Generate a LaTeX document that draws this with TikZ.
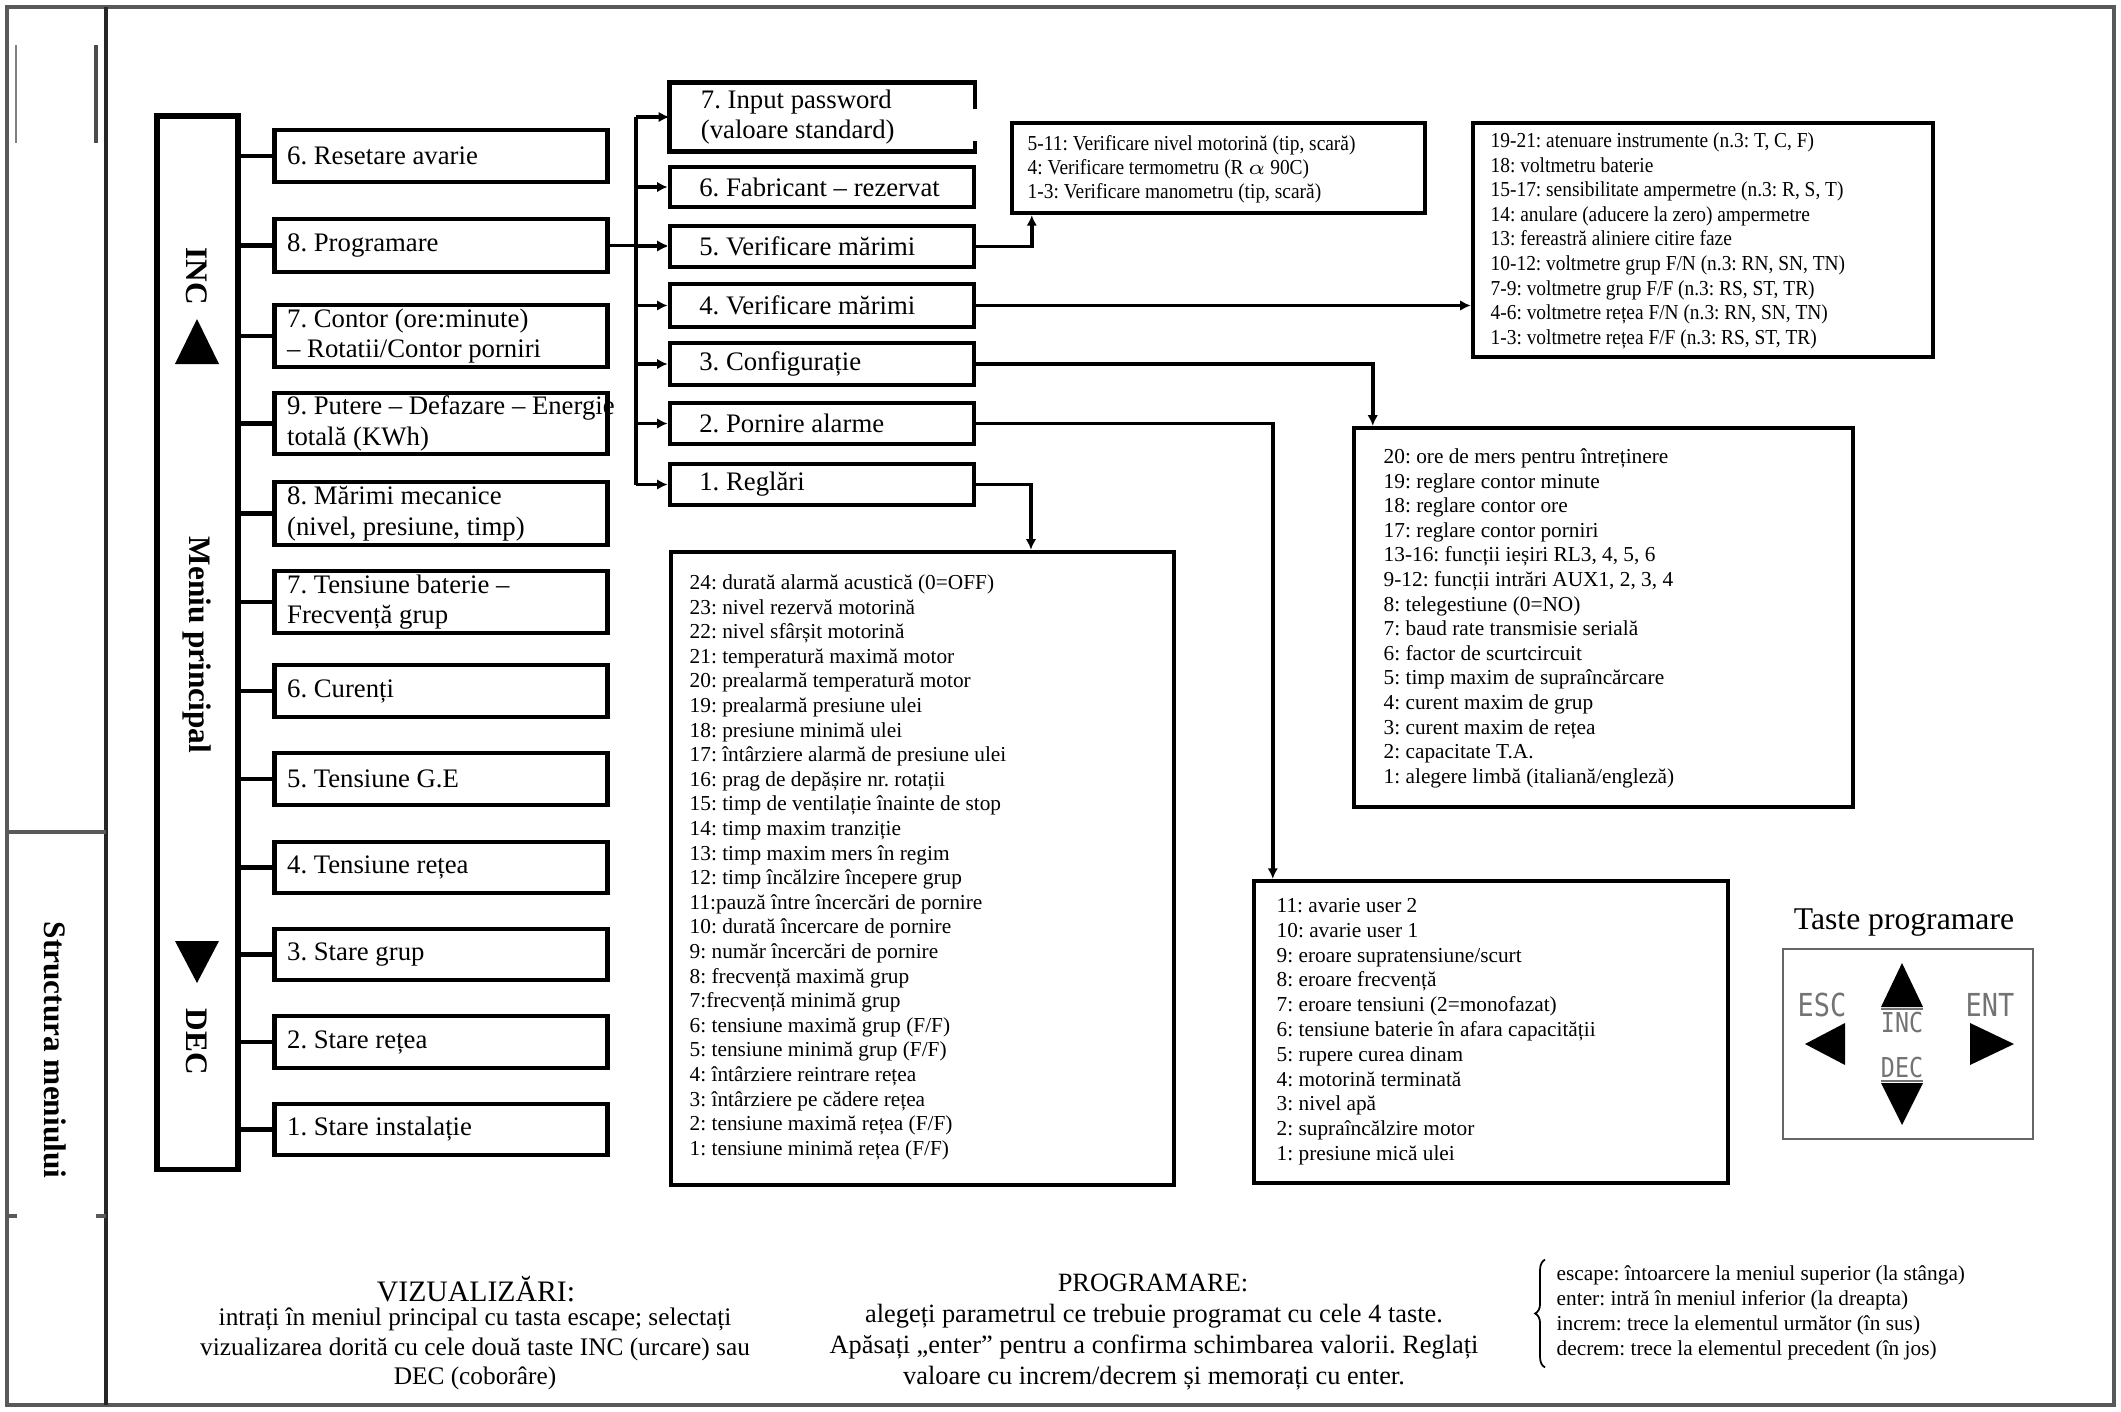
\documentclass[tikz,border=0pt]{standalone}
\usepackage{fontspec}
\setmainfont{Liberation Serif}
\newfontfamily\narrowserif[FakeStretch=0.91]{Liberation Serif}
\newfontfamily\keypadfont[FakeStretch=0.85]{DejaVu Sans Mono}
\usepackage{tikz}
\usetikzlibrary{calc, arrows.meta, decorations.pathreplacing}
\frenchspacing

\begin{document}
\begin{tikzpicture}[x=0.01cm, y=-0.01cm,
	menubox/.style={draw, line width=1.4pt, minimum width=3.32cm, inner sep=0pt},
	subbox/.style={draw, line width=1.3pt, minimum width=3.04cm, inner sep=0pt},
	listbox/.style={draw, line width=1.2pt, inner sep=0pt},
	boxtxt/.style={anchor=west, align=left, inner sep=0pt, font=\fontsize{7.6}{8.7}\selectfont},
	listtxt/.style={anchor=west, inner sep=0pt, text height=4.3pt, text depth=1.2pt, font=\fontsize{6.06}{7}\selectfont},
	narrowtxt/.style={listtxt, font=\narrowserif\fontsize{6.06}{7}\selectfont},
	vlabel/.style={rotate=-90, inner sep=0pt, font=\fontsize{8.9}{10}\bfseries},
	link/.style={line width=1.3pt},
	sublink/.style={line width=1.1pt},
	arr/.style={-{Latex[length=3pt, width=3pt]}},
	frame/.style={line width=1.1pt, black!65},
	keylbl/.style={inner sep=0pt, text=black!55, font=\keypadfont\fontsize{9}{9}\selectfont}]
			\pgfmathsetmacro{\menux}{441}
			\pgfmathsetmacro{\subx}{822}
			\pgfmathsetmacro{\listgap}{24.6}
			\useasboundingbox (0,0) rectangle (2121,1412);
			
			\draw[frame] (7,7) rectangle (2114,1405);
			\draw[frame, black!85] (106,7) -- (106,1405);
			\draw[frame] (7,832) -- (106,832);
			\draw[frame] (7,1216) -- ++(10,0);
			\draw[frame] (106,1216) -- ++(-10,0);
			\draw[line width=0.5pt, black!50] (16,45) -- (16,143);
			\draw[line width=0.9pt, black!70] (96,45) -- (96,143);
			\node[vlabel] (structlbl) at (55,1050) {Structura meniului};
			
			\node[draw, line width=1.6pt, minimum width=0.81cm, minimum height=10.53cm] (menu) at (197.5,642.5) {};
			\node[vlabel] (inclbl) at (197,276) {INC};
			\fill (197,319) -- (175,364) -- (219,364) -- cycle;
			\node[vlabel] (menulbl) at (197,645) {Meniu principal};
			\fill (175,941) -- (219,941) -- (197,983) -- cycle;
			\node[vlabel] (declbl) at (197,1042) {DEC};
			
			\foreach \nm/\yy/\hh/\txt in {
				reset/156/52/{6. Resetare avarie},
				progr/245.5/53/{8. Programare},
				contor/336/62/{7. Contor (ore:minute)\\– Rotatii/Contor porniri},
				putere/423.5/61/{9. Putere – Defazare – Energie\\totală (KWh)},
				mecan/513.5/63/{8. Mărimi mecanice\\(nivel, presiune, timp)},
				bater/602/62/{7. Tensiune baterie –\\Frecvență grup},
				curenti/691/52/{6. Curenți},
				tensge/779/52/{5. Tensiune G.E},
				tensret/867.5/51/{4. Tensiune rețea},
				stgrup/954.5/51/{3. Stare grup},
				stret/1042/52/{2. Stare rețea},
				stinst/1129.5/51/{1. Stare instalație}}{
				\node[menubox, minimum height=\hh*0.01cm] (\nm) at (\menux,\yy) {};
				\node[boxtxt] (\nm-t) at ([xshift=0.14cm]\nm.west) {\txt};
				\draw[link] (menu.east |- \nm.west) -- (\nm.west);
			}
			
			\coordinate (bus) at (636,117);
			\node[minimum width=3.04cm, minimum height=0.68cm, inner sep=0pt] (ipw) at (\subx,117) {};
			\draw[line width=1.3pt] ([yshift=-0.27cm]ipw.north east) -- (ipw.north east) -- (ipw.north west) -- (ipw.south west) -- (ipw.south east) -- ++(0,-11);
			\node[boxtxt] (ipw-t) at ([xshift=0.31cm]ipw.west) {7. Input password\\(valoare standard)};
			\draw[sublink, arr] (bus |- ipw.west) -- (ipw.west);
			\foreach \nm/\yy/\hh/\txt in {
				fabr/187/40/{6. Fabricant – rezervat},
				ver5/246.5/41/{5. Verificare mărimi},
				ver4/305.5/43/{4. Verificare mărimi},
				cfg/364/42/{3. Configurație},
				alrm/423.5/41/{2. Pornire alarme},
				regl/484.5/41/{1. Reglări}}{
				\node[subbox, minimum height=\hh*0.01cm] (\nm) at (\subx,\yy) {};
				\node[boxtxt] (\nm-t) at ([xshift=0.31cm]\nm.west) {\txt};
				\draw[sublink, arr] (bus |- \nm.west) -- (\nm.west);
			}
			\draw[sublink] (bus |- ipw.west) -- (bus |- regl.west);
			\draw[sublink, arr] (progr.east) -- (progr.east -| ver5.west);
			
			\node[listbox, minimum width=4.13cm, minimum height=0.9cm] (verbox) at (1218.5,168) {};
			\foreach \t [count=\i] in {
				{5-11: Verificare nivel motorină (tip, scară)},
				{4: Verificare termometru (R $\alpha$ 90C)},
				{1-3: Verificare manometru (tip, scară)}}
				\node[narrowtxt] (ver-\i) at (1027,{145+24*(\i-1)}) {\t};
			
			\node[listbox, minimum width=4.6cm, minimum height=2.34cm] (instrbox) at (1703,240) {};
			\foreach \t [count=\i] in {
				{19-21: atenuare instrumente (n.3: T, C, F)},
				{18: voltmetru baterie},
				{15-17: sensibilitate ampermetre (n.3: R, S, T)},
				{14: anulare (aducere la zero) ampermetre},
				{13: fereastră aliniere citire faze},
				{10-12: voltmetre grup F/N (n.3: RN, SN, TN)},
				{7-9: voltmetre grup F/F (n.3: RS, ST, TR)},
				{4-6: voltmetre rețea F/N (n.3: RN, SN, TN)},
				{1-3: voltmetre rețea F/F (n.3: RS, ST, TR)}}
				\node[narrowtxt] (instr-\i) at (1490,{142+\listgap*(\i-1)}) {\t};
			
			\node[listbox, minimum width=4.99cm, minimum height=3.79cm] (cfgbox) at (1603.5,617.5) {};
			\foreach \t [count=\i] in {
				{20: ore de mers pentru întreținere},
				{19: reglare contor minute},
				{18: reglare contor ore},
				{17: reglare contor porniri},
				{13-16: funcții ieșiri RL3, 4, 5, 6},
				{9-12: funcții intrări AUX1, 2, 3, 4},
				{8: telegestiune (0=NO)},
				{7: baud rate transmisie serială},
				{6: factor de scurtcircuit},
				{5: timp maxim de supraîncărcare},
				{4: curent maxim de grup},
				{3: curent maxim de rețea},
				{2: capacitate T.A.},
				{1: alegere limbă (italiană/engleză)}}
				\node[listtxt] (cfg-\i) at (1383,{458+\listgap*(\i-1)}) {\t};
			
			\node[listbox, minimum width=4.74cm, minimum height=3.02cm] (alrmbox) at (1491,1032) {};
			\foreach \t [count=\i] in {
				{11: avarie user 2},
				{10: avarie user 1},
				{9: eroare supratensiune/scurt},
				{8: eroare frecvență},
				{7: eroare tensiuni (2=monofazat)},
				{6: tensiune baterie în afara capacității},
				{5: rupere curea dinam},
				{4: motorină terminată},
				{3: nivel apă},
				{2: supraîncălzire motor},
				{1: presiune mică ulei}}
				\node[listtxt] (alrm-\i) at (1276,{907+24.8*(\i-1)}) {\t};
			
			\node[listbox, minimum width=5.03cm, minimum height=6.33cm] (reglbox) at (922.5,868.5) {};
			\foreach \t [count=\i] in {
				{24: durată alarmă acustică (0=OFF)},
				{23: nivel rezervă motorină},
				{22: nivel sfârșit motorină},
				{21: temperatură maximă motor},
				{20: prealarmă temperatură motor},
				{19: prealarmă presiune ulei},
				{18: presiune minimă ulei},
				{17: întârziere alarmă de presiune ulei},
				{16: prag de depășire nr. rotații},
				{15: timp de ventilație înainte de stop},
				{14: timp maxim tranziție},
				{13: timp maxim mers în regim},
				{12: timp încălzire începere grup},
				{11:pauză între încercări de pornire},
				{10: durată încercare de pornire},
				{9: număr încercări de pornire},
				{8: frecvență maximă grup},
				{7:frecvență minimă grup},
				{6: tensiune maximă grup (F/F)},
				{5: tensiune minimă grup (F/F)},
				{4: întârziere reintrare rețea},
				{3: întârziere pe cădere rețea},
				{2: tensiune maximă rețea (F/F)},
				{1: tensiune minimă rețea (F/F)}}
				\node[listtxt] (regl-\i) at (689,{584+\listgap*(\i-1)}) {\t};
			
			\draw[sublink, arr] (ver5.east) -| ([xshift=0.22cm]verbox.south west);
			\draw[sublink, arr] (ver4.east) -- (ver4.east -| instrbox.west);
			\draw[sublink, arr] (cfg.east) -| ([xshift=0.21cm]cfgbox.north west);
			\draw[sublink, arr] (alrm.east) -| ([xshift=0.21cm]alrmbox.north west);
			\draw[sublink, arr] (regl.east) -| ([xshift=3.62cm]reglbox.north west);
			
			\node[inner sep=0pt, font=\fontsize{9}{10}\selectfont] (keytitle) at (1904,923) {Taste programare};
			\node[draw=black!60, line width=0.7pt, minimum width=2.5cm, minimum height=1.9cm] (keypad) at (1908,1044) {};
			\fill (1902,963) -- (1881,1007) -- (1923,1007) -- cycle;
			\fill (1881,1083) -- (1923,1083) -- (1902,1125) -- cycle;
			\fill (1805,1044) -- (1845,1023) -- (1845,1065) -- cycle;
			\fill (1970,1023) -- (1970,1065) -- (2014,1044) -- cycle;
			\draw[black!55, line width=0.8pt] (1881,1009) -- (1923,1009);
			\draw[black!55, line width=0.8pt] (1881,1081) -- (1923,1081);
			\node[keylbl] (esckey) at (1822,1005) {ESC};
			\node[keylbl] (entkey) at (1990,1005) {ENT};
			\node[keylbl, font=\keypadfont\fontsize{7.8}{8}\selectfont] (inckey) at (1902,1022) {INC};
			\node[keylbl, font=\keypadfont\fontsize{7.8}{8}\selectfont] (deckey) at (1902,1068) {DEC};
			
			\node[inner sep=0pt, font=\fontsize{8.45}{10}\selectfont] (viztitle) at (476,1289) {VIZUALIZĂRI:};
			\node[inner sep=0pt, align=center, font=\fontsize{7.2}{8.4}\selectfont] (viztxt) at (475,1349) {intrați în meniul principal cu tasta escape; selectați\\vizualizarea dorită cu cele două taste INC (urcare) sau\\DEC (coborâre)};
			\node[inner sep=0pt, font=\fontsize{7.5}{9}\selectfont] (progtitle) at (1153,1283) {PROGRAMARE:};
			\node[inner sep=0pt, align=center, font=\fontsize{7.5}{8.8}\selectfont] (progtxt) at (1154,1347) {alegeți parametrul ce trebuie programat cu cele 4 taste.\\Apăsați „enter” pentru a confirma schimbarea valorii. Reglați\\valoare cu increm/decrem și memorați cu enter.};
			
			\foreach \t [count=\i] in {
				{escape: întoarcere la meniul superior (la stânga)},
				{enter: intră în meniul inferior (la dreapta)},
				{increm: trece la elementul următor (în sus)},
				{decrem: trece la elementul precedent (în jos)}}
				\node[listtxt] (leg-\i) at (1556,{1275+25*(\i-1)}) {\t};
			\draw[line width=0.5pt, decorate, decoration={brace, amplitude=2.8pt}] ([xshift=-0.11cm, yshift=-0.07cm]leg-4.south west) -- ([xshift=-0.11cm, yshift=0.05cm]leg-1.north west);
\end{tikzpicture}
\end{document}
